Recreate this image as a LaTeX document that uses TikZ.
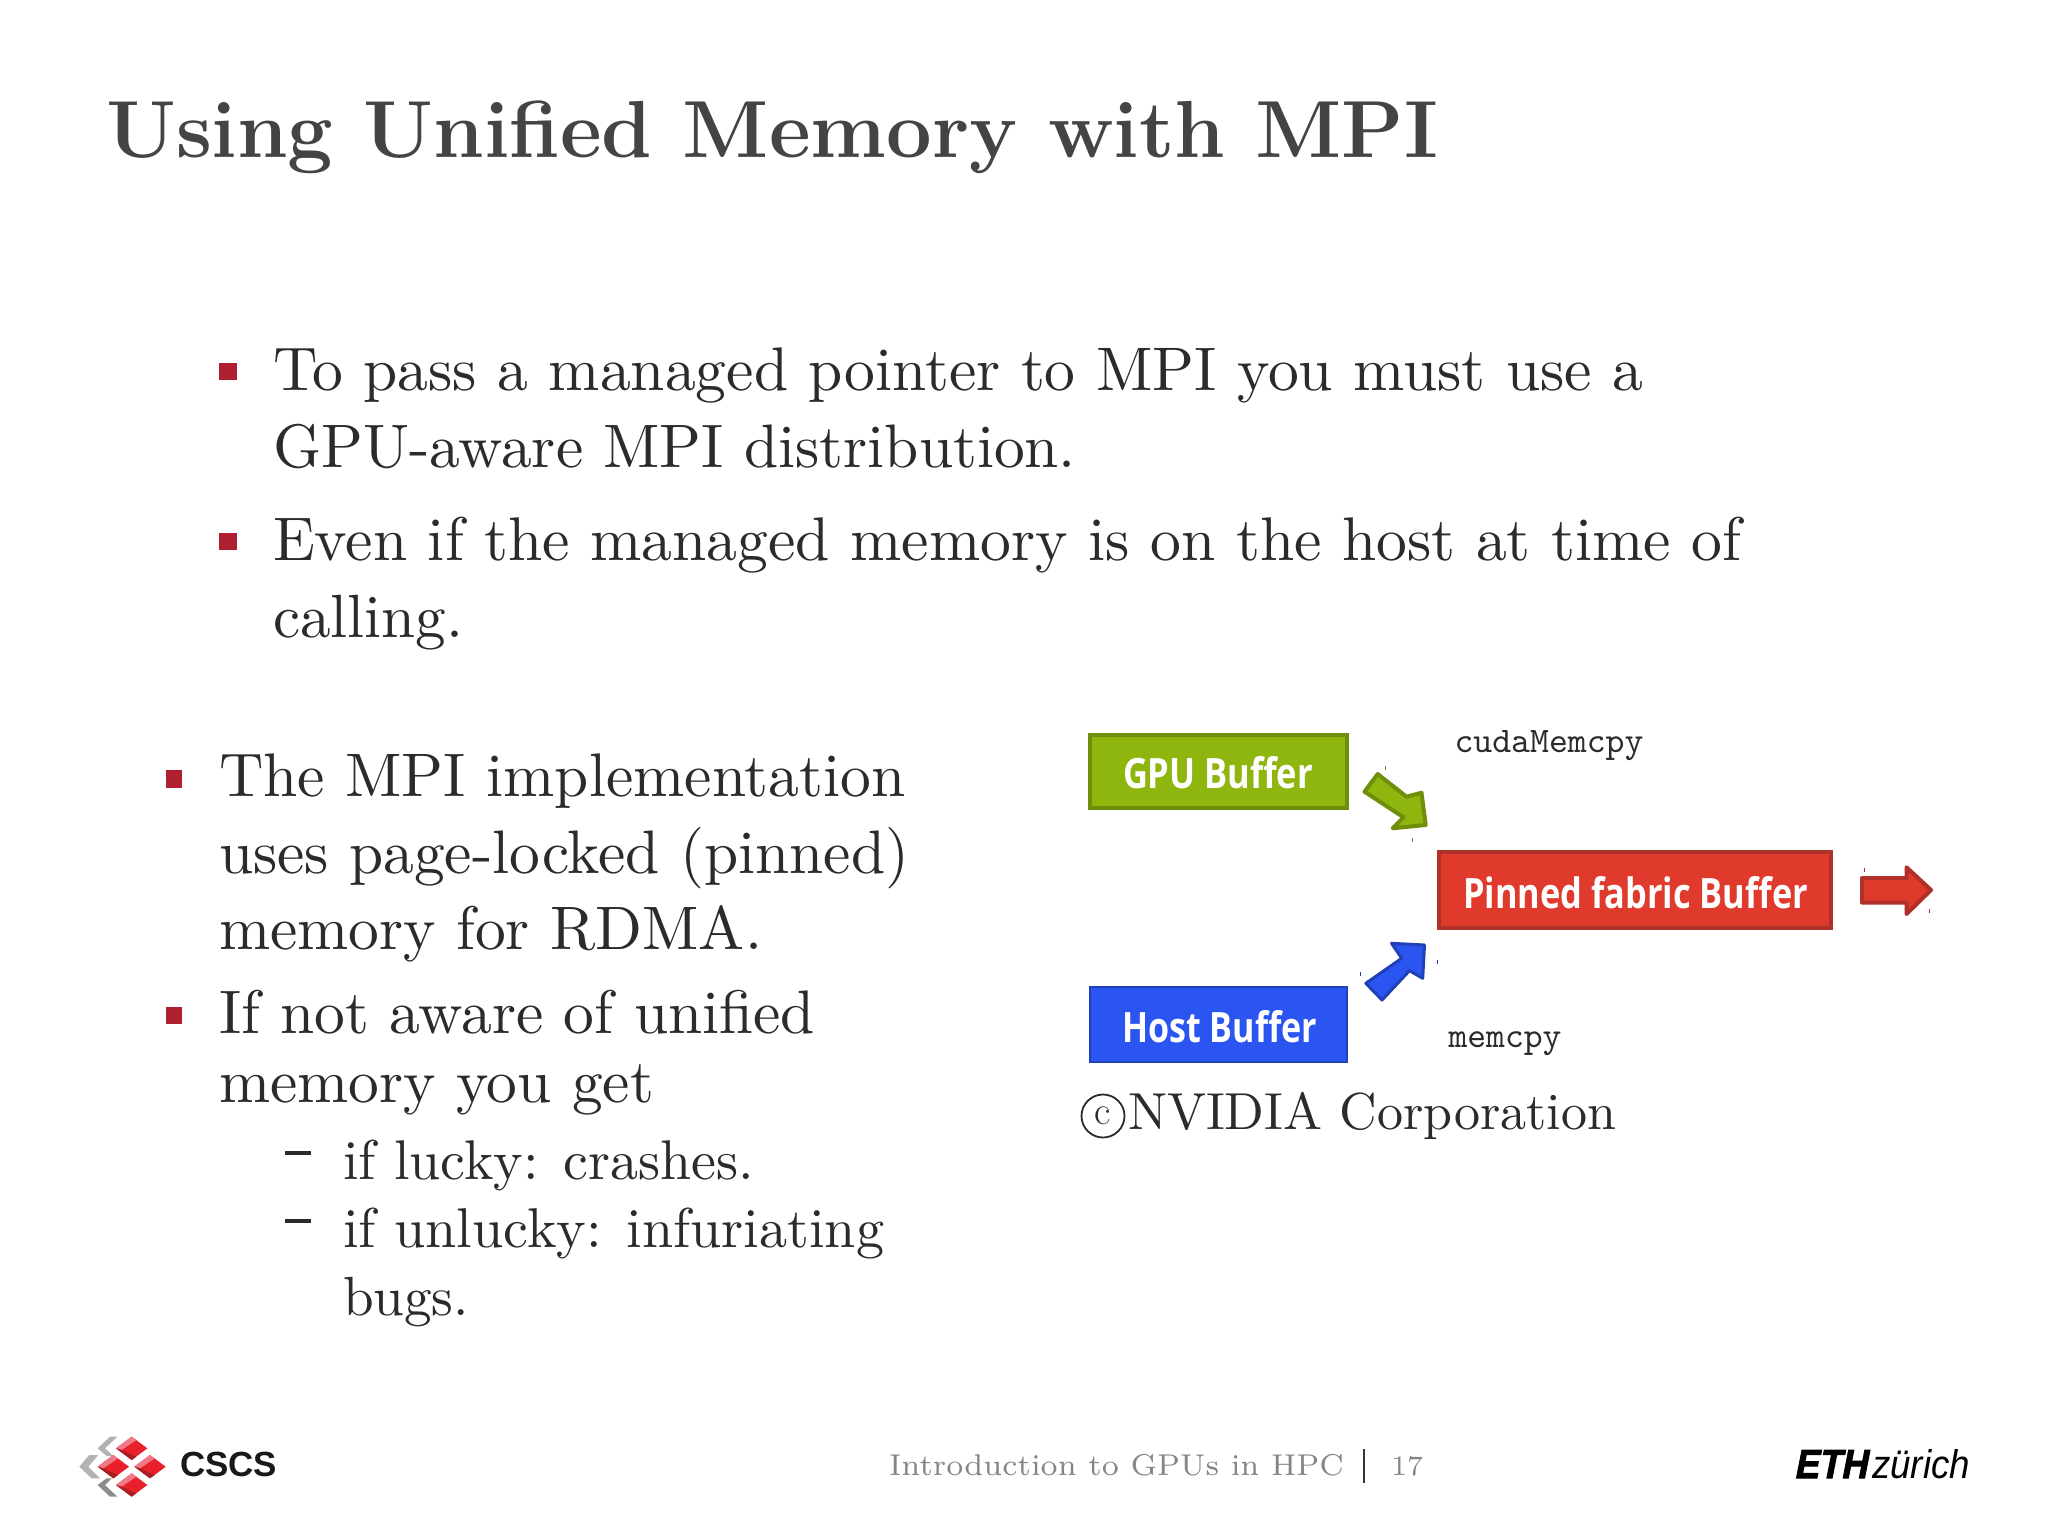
\documentclass[tikz,border=0pt]{standalone}
\usepackage{graphicx}
\usepackage{fontspec}
\newfontfamily\boxfont{Open Sans}
\newfontfamily\logofont{Liberation Sans}
\newfontfamily\ethfont[FakeBold=2.5,FakeSlant=.22]{Liberation Sans Bold}
\definecolor{titlegray}{HTML}{444444}
\definecolor{bodygray}{HTML}{2B2B2B}
\definecolor{footgray}{HTML}{858585}
\definecolor{bulletred}{HTML}{AE2030}
\definecolor{gpufill}{HTML}{8FB50F}
\definecolor{gpuedge}{HTML}{6F8F0A}
\definecolor{redfill}{HTML}{E03A2C}
\definecolor{rededge}{HTML}{B0302A}
\definecolor{bluefill}{HTML}{2A55F0}
\definecolor{blueedge}{HTML}{2040B8}
\definecolor{cubemain}{HTML}{E8202C}
\definecolor{cubelight}{HTML}{EE7A88}
\definecolor{cubedark}{HTML}{A81E22}
\newcommand{\fitw}[2]{\resizebox{\dimexpr #1pt/2\relax}{!}{#2}}
\newcommand{\fitwh}[3]{\resizebox{\dimexpr #1pt/2\relax}{\dimexpr #2pt/2\relax}{#3}}
\tikzset{
  txt/.style={anchor=base west,inner sep=0pt,outer sep=0pt},
  body/.style={txt,text=bodygray},
  bulletbox/.style={fill=bulletred,draw=none},
  dashmark/.style={fill=bodygray,draw=none},
  speck/.style={line width=.5pt},
}
\begin{document}
\begin{tikzpicture}[x=.5pt,y=-.5pt]
\useasboundingbox (0,0) rectangle (2048,1536);
\fill[white] (0,0) rectangle (2048,1536);
% title
\node[txt,text=titlegray] (title) at (106,157) {\fitw{1332}{\bfseries\fontsize{12}{14}\selectfont Using Unified Memory with MPI}};
% upper bullets
\fill[bulletbox] (219,363) rectangle (237,380);
\fill[bulletbox] (219,533) rectangle (237,550);
\node[body] (l1) at (273,390) {\fitw{1370}{\fontsize{10}{12}\selectfont To pass a managed pointer to MPI you must use a}};
\node[body] (l2) at (273,467) {\fitw{803}{\fontsize{10}{12}\selectfont GPU-aware MPI distribution.}};
\node[body] (l3) at (273,560) {\fitw{1468}{\fontsize{10}{12}\selectfont Even if the managed memory is on the host at time of}};
\node[body] (l4) at (273,637) {\fitw{190}{\fontsize{10}{12}\selectfont calling.}};
% lower bullets
\fill[bulletbox] (166,770) rectangle (182,788);
\fill[bulletbox] (166,1007) rectangle (182,1024);
\node[body] (m1) at (219,796) {\fitw{686}{\fontsize{10}{12}\selectfont The MPI implementation}};
\node[body] (m2) at (219,873) {\fitw{690}{\fontsize{10}{12}\selectfont uses page-locked (pinned)}};
\node[body] (m3) at (219,949) {\fitw{543}{\fontsize{10}{12}\selectfont memory for RDMA.}};
\node[body] (m4) at (219,1033) {\fitw{596}{\fontsize{10}{12}\selectfont If not aware of unified}};
\node[body] (m5) at (219,1102) {\fitw{435}{\fontsize{10}{12}\selectfont memory you get}};
\fill[dashmark] (285,1151) rectangle (311,1155);
\fill[dashmark] (285,1219) rectangle (311,1223);
\node[body] (s1) at (343,1179) {\fitw{411}{\fontsize{10}{12}\selectfont if lucky: crashes.}};
\node[body] (s2) at (343,1247) {\fitw{541}{\fontsize{10}{12}\selectfont if unlucky: infuriating}};
\node[body] (s3) at (343,1315) {\fitw{126}{\fontsize{10}{12}\selectfont bugs.}};
% buffers
\fill[gpufill,draw=gpuedge,line width=1.75pt] (1090,735) rectangle (1347,808);
\fill[redfill,draw=rededge,line width=1.75pt] (1439,852) rectangle (1831,928);
\fill[bluefill,draw=blueedge,line width=1.25pt] (1090,987) rectangle (1347,1062);
\node[txt,text=white] (gpu) at (1123,788) {\fitwh{190}{32}{\boxfont\bfseries GPU Buffer}};
\node[txt,text=white] (pin) at (1463,908) {\fitwh{345}{32}{\boxfont\bfseries Pinned fabric Buffer}};
\node[txt,text=white] (host) at (1122,1042) {\fitwh{195}{32}{\boxfont\bfseries Host Buffer}};
% arrows
\fill[gpufill,draw=gpuedge,line width=2pt,line join=round]
  (1377.7,774) -- (1406.5,796.7) -- (1421.5,792.7) -- (1425.7,825) -- (1392.7,828.3) -- (1403.5,817.3) -- (1364.5,791.7) -- cycle;
\fill[bluefill,draw=blueedge,line width=1.5pt,line join=round]
  (1391.5,943.3) -- (1424.5,945) -- (1422.7,978.3) -- (1409.5,970.7) -- (1382,1000) -- (1365.8,983.3) -- (1401.7,958.3) -- cycle;
\fill[redfill,draw=rededge,line width=2pt,line join=round]
  (1862,878) -- (1906.5,878) -- (1906.5,867.3) -- (1931,890) -- (1906.5,914) -- (1906.5,902.7) -- (1862,902.7) -- cycle;
% specks
\draw[speck,gpuedge] (1385.5,766) -- (1385.5,770);
\draw[speck,gpuedge] (1412,838) -- (1412,842);
\draw[speck,blueedge] (1360,972) -- (1360,976);
\draw[speck,blueedge] (1437,960) -- (1437,964);
\draw[speck,rededge] (1864.5,868) -- (1864.5,872);
\draw[speck,rededge] (1929,909) -- (1929,913);
% labels
\node[txt,text=bodygray] (cuda) at (1454.5,752) {\fitw{189}{\ttfamily\fontsize{10}{12}\selectfont cudaMemcpy}};
\node[txt,text=bodygray] (memc) at (1448.5,1047) {\fitw{113}{\ttfamily\fontsize{10}{12}\selectfont memcpy}};
\node[circle,draw=bodygray,line width=.9pt,minimum size=21.5pt,inner sep=0pt,text=bodygray] (copy) at (1103,1116) {\fontsize{20}{22}\selectfont c};
\node[txt,text=bodygray] (nv) at (1128,1129) {\fitw{488}{\fontsize{10}{12}\selectfont NVIDIA Corporation}};
% footer
\node[txt,text=footgray] (foot) at (889,1475) {\fitw{455}{\fontsize{7}{8}\selectfont Introduction to GPUs in HPC}};
\draw[black!80,line width=1pt] (1364,1449) -- (1364,1483);
\node[txt,text=footgray] (page) at (1391,1475) {\fitw{32}{\fontsize{7}{8}\selectfont 17}};
\node[txt] (eth) at (1794,1478) {\fitwh{73}{28}{\ethfont ETH}};
\node[txt] (zur) at (1872,1478) {\fitwh{98}{29}{\logofont\itshape zürich}};
\node[txt,text=black!90] (cscs) at (180,1476) {\fitw{97}{\logofont\bfseries CSCS}};
% logo
\begin{scope}[shift={(60,1420)},x=.16667pt,y=-.16667pt]
  \fill[black!30] (150,50) -- (172,50) -- (135,85) -- (160,108) -- (140,108) -- (113,85) -- cycle;
  \fill[black!30] (88,105) -- (115,105) -- (85,140) -- (120,175) -- (95,175) -- (58,140) -- cycle;
  \fill[black!45] (140,175) -- (155,175) -- (135,195) -- (172,230) -- (150,230) -- (113,195) -- cycle;
  \foreach \cx/\cy in {215/85,160/140,270/140,215/195}{
    \begin{scope}[shift={(\cx,\cy)}]
      \fill[cubemain] (-47,0) -- (0,-35) -- (47,0) -- (0,35) -- cycle;
      \fill[cubelight] (-47,0) -- (0,-35) -- (14,-25) -- (-30,5) -- cycle;
      \fill[cubedark] (-47,0) -- (-30,5) -- (14,25) -- (0,35) -- cycle;
    \end{scope}
  }
\end{scope}
\end{tikzpicture}
\end{document}
